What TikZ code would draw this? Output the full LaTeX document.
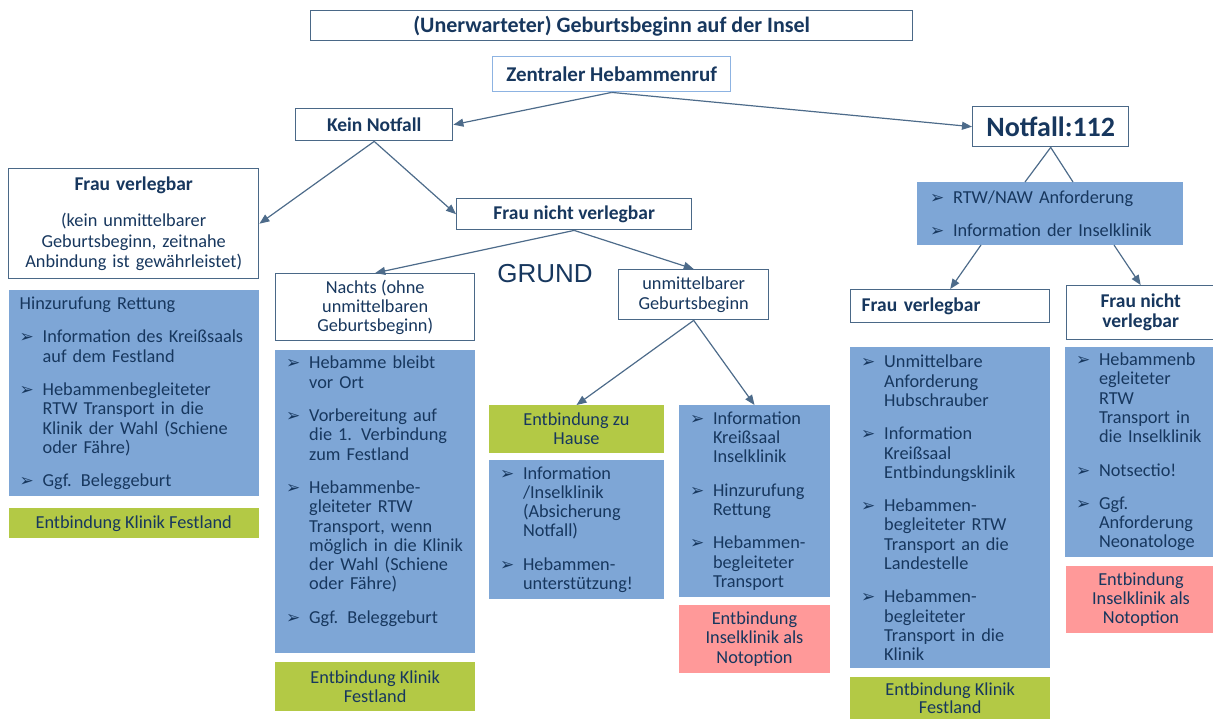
\documentclass[tikz,border=0pt]{standalone}
\usepackage{fontspec}
\setmainfont{Carlito}
\newfontfamily\symfont{DejaVu Sans}
\newfontfamily\grundfont{Liberation Sans}
\usetikzlibrary{arrows.meta,positioning}
\definecolor{navy}{HTML}{17375E}
\definecolor{frame}{HTML}{4A6887}
\definecolor{lightframe}{HTML}{8DB3E2}
\definecolor{infoblue}{HTML}{7EA6D6}
\definecolor{outgreen}{HTML}{B3C945}
\definecolor{outred}{HTML}{FF9999}
\definecolor{wire}{HTML}{4D6B8A}
\newcommand{\bul}{{\symfont\fontsize{17}{17}\selectfont ➢}}
\newcommand{\bi}{\makebox[23pt][l]{\bul}}
\newcommand{\ci}{\hspace*{23pt}}
\tikzset{
  >={Triangle[length=10pt,width=8pt]},
  head/.style={draw=frame, line width=1.4pt, fill=white, text=navy, align=center, inner sep=0pt, font=\bfseries\fontsize{19.5}{20}\selectfont},
  textbox/.style={head, font=\fontsize{18.3}{19.3}\selectfont},
  info/.style={fill=infoblue, text=navy, align=left, inner xsep=11pt, inner ysep=0pt, outer sep=0pt, font=\fontsize{18.3}{19.3}\selectfont},
  outg/.style={fill=outgreen, text=navy, align=center, inner sep=0pt, outer sep=0pt, font=\fontsize{18.3}{19.3}\selectfont},
  outr/.style={outg, fill=outred},
  conn/.style={->, draw=wire, line width=1.2pt},
}
\begin{document}
\begin{tikzpicture}[x=1pt, y=-1pt]
  \useasboundingbox (0,0) rectangle (1213,718);

  % top of the tree
  \node[head, anchor=north west, minimum width=602pt, minimum height=30pt, font=\bfseries\fontsize{22}{22}\selectfont] (title) at (310,10) {(Unerwarteter) Geburtsbeginn auf der Insel};
  \node[head, draw=lightframe, anchor=north west, minimum width=238pt, minimum height=35pt, font=\bfseries\fontsize{21}{21}\selectfont] (zentral) at (492,56) {Zentraler Hebammenruf};
  \node[head, anchor=north west, minimum width=157pt, minimum height=32pt] (kein) at (295,108) {Kein Notfall};
  \node[head, anchor=north west, minimum width=156pt, minimum height=40pt, font=\bfseries\fontsize{28}{28}\selectfont] (notfall) at (972,106) {Notfall:112};

  % Kein Notfall
  \node[textbox, anchor=north west, minimum width=250pt, minimum height=110pt, text width=228pt, font=\fontsize{18.3}{20.5}\selectfont] (fv) at (8,168)
    {\textbf{\fontsize{19.5}{20}\selectfont Frau verlegbar}\\[16pt]
     (kein unmittelbarer\\ Geburtsbeginn, zeitnahe\\ Anbindung ist gewährleistet)};
  \node[head, anchor=north west, minimum width=235pt, minimum height=31pt] (fnv) at (456,198) {Frau nicht verlegbar};
  \node[textbox, anchor=north west, minimum width=199pt, minimum height=67pt] (nachts) at (275,273) {Nachts (ohne\\unmittelbaren\\Geburtsbeginn)};
  \node[textbox, anchor=north west, minimum width=150pt, minimum height=50pt] (unm) at (618,269) {unmittelbarer\\Geburtsbeginn};
  \node[text=navy, font=\grundfont\fontsize{26}{26}\selectfont] (grund) at (545,274) {GRUND};

  \node[info, below=11pt of fv, minimum width=250pt, minimum height=206pt, text width=228pt] (lblue)
    {Hinzurufung Rettung\\[14pt]
     \bi Information des Kreißsaals\\ \ci auf dem Festland\\[14pt]
     \bi Hebammenbegleiteter\\ \ci RTW Transport in die\\ \ci Klinik der Wahl (Schiene\\ \ci oder Fähre)\\[14pt]
     \bi Ggf. Beleggeburt};
  \node[outg, below=12pt of lblue, minimum width=250pt, minimum height=30pt] (lgreen) {Entbindung Klinik Festland};

  \node[info, below=9pt of nachts, minimum width=200pt, minimum height=303pt, text width=178pt] (nblue)
    {\bi Hebamme bleibt\\ \ci vor Ort\\[14pt]
     \bi Vorbereitung auf\\ \ci die 1. Verbindung\\ \ci zum Festland\\[14pt]
     \bi Hebammenbe-\\ \ci gleiteter RTW\\ \ci Transport, wenn\\ \ci möglich in die Klinik\\ \ci der Wahl (Schiene\\ \ci oder Fähre)\\[14pt]
     \bi Ggf. Beleggeburt\\[5pt]\mbox{}};
  \node[outg, below=9pt of nblue, minimum width=200pt, minimum height=49pt] (ngreen) {Entbindung Klinik\\Festland};

  \node[outg, anchor=north west, minimum width=175pt, minimum height=48pt] (hgreen) at (489,405) {Entbindung zu\\Hause};
  \node[info, below=7pt of hgreen, minimum width=175pt, minimum height=139pt, text width=153pt] (hblue)
    {\bi Information\\ \ci /Inselklinik\\ \ci (Absicherung\\ \ci Notfall)\\[14pt]
     \bi Hebammen-\\ \ci unterstützung!};

  \node[info, anchor=north west, minimum width=151pt, minimum height=192pt, text width=129pt] (kblue) at (679,405)
    {\bi Information\\ \ci Kreißsaal\\ \ci Inselklinik\\[14pt]
     \bi Hinzurufung\\ \ci Rettung\\[14pt]
     \bi Hebammen-\\ \ci begleiteter\\ \ci Transport};
  \node[outr, below=8pt of kblue, minimum width=151pt, minimum height=68pt] (kred) {Entbindung\\Inselklinik als\\Notoption};

  % Notfall
  \node[info, anchor=north west, minimum width=266pt, minimum height=63pt, text width=240pt, inner xsep=13pt] (rtw) at (917,182)
    {\bi RTW/NAW Anforderung\\[14pt]
     \bi Information der Inselklinik};
  \node[head, anchor=north west, minimum width=199pt, minimum height=33pt, text width=177pt, align=left, inner xsep=11pt] (rfv) at (850,289) {Frau verlegbar};
  \node[head, anchor=north west, minimum width=148pt, minimum height=54pt] (rfnv) at (1066,285) {Frau nicht\\verlegbar};

  \node[info, below=24pt of rfv, minimum width=200pt, minimum height=321pt, text width=178pt] (rblue1)
    {\bi Unmittelbare\\ \ci Anforderung\\ \ci Hubschrauber\\[14pt]
     \bi Information\\ \ci Kreißsaal\\ \ci Entbindungsklinik\\[14pt]
     \bi Hebammen-\\ \ci begleiteter RTW\\ \ci Transport an die\\ \ci Landestelle\\[14pt]
     \bi Hebammen-\\ \ci begleiteter\\ \ci Transport in die\\ \ci Klinik};
  \node[outg, below=9pt of rblue1, minimum width=200pt, minimum height=42pt, font=\fontsize{18.3}{18}\selectfont] (rgreen) {Entbindung Klinik\\Festland};

  \node[info, anchor=north west, minimum width=148pt, minimum height=210pt, text width=130pt] (rblue2) at (1065,347)
    {\bi Hebammenb\\ \ci egleiteter\\ \ci RTW\\ \ci Transport in\\ \ci die Inselklinik\\[14pt]
     \bi Notsectio!\\[14pt]
     \bi Ggf.\\ \ci Anforderung\\ \ci Neonatologe};
  \node[outr, below=9pt of rblue2, minimum width=150pt, minimum height=67pt] (rred) {Entbindung\\Inselklinik als\\Notoption};

  % connectors
  \draw[conn] (zentral.south) -- (kein.east);
  \draw[conn] (zentral.south) -- (notfall.west);
  \draw[conn] (kein.south) -- (fv.east);
  \draw[conn] (kein.south) -- (fnv.west);
  \draw[conn] (fnv.south) -- (nachts.north);
  \draw[conn] (fnv.south) -- (unm.north);
  \draw[conn] (unm.south) -- (hgreen.north);
  \draw[conn] (unm.south) -- (kblue.north);
  \draw[conn, -] (notfall.south) -- ([xshift=-25pt]rtw.north);
  \draw[conn, -] (notfall.south) -- ([xshift=23pt]rtw.north);
  \draw[conn] ([xshift=64pt]rtw.south west) -- (rfv.north);
  \draw[conn] ([xshift=-69pt]rtw.south east) -- (rfnv.north);
\end{tikzpicture}
\end{document}
